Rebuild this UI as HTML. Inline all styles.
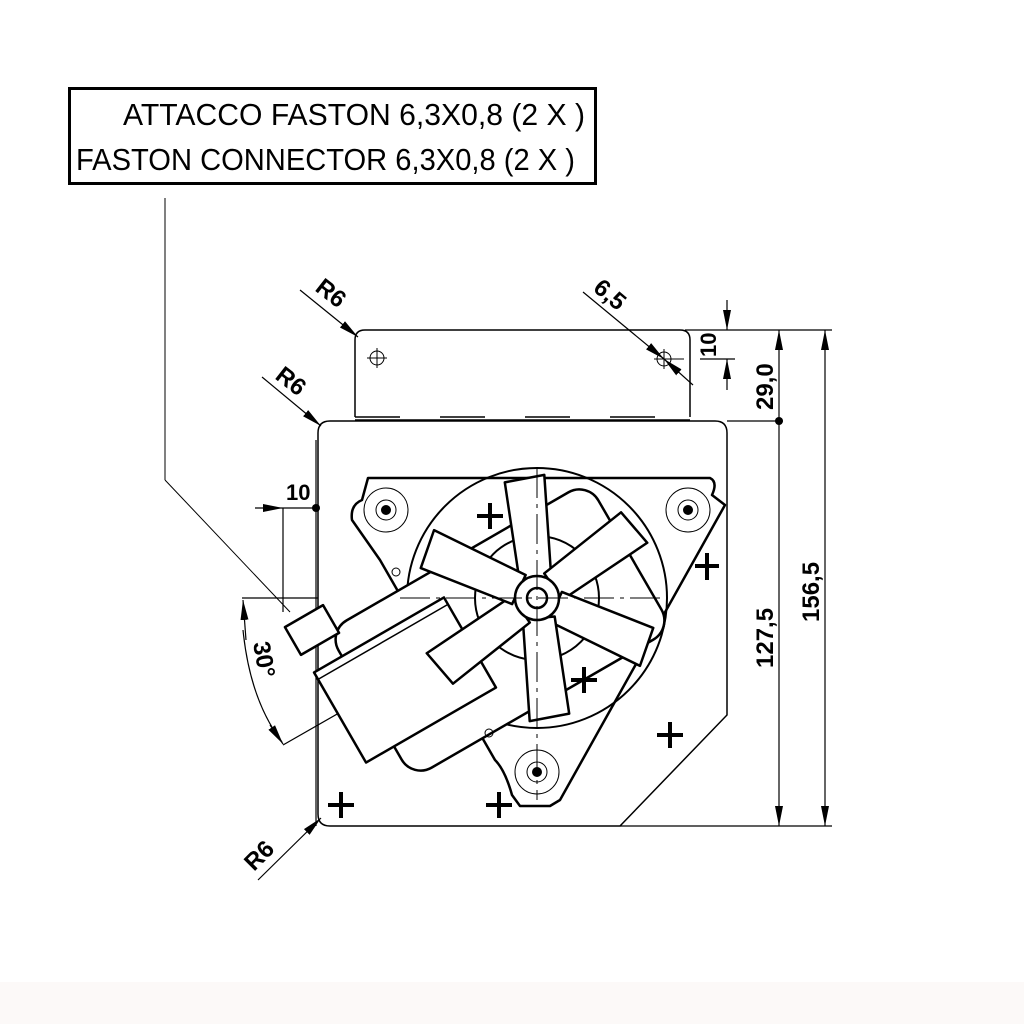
<!DOCTYPE html>
<html><head><meta charset="utf-8"><style>
html,body{margin:0;padding:0;background:#fff;}
svg{display:block}
text{font-family:"Liberation Sans Narrow","Liberation Sans",sans-serif;fill:#000}
</style></head><body>
<svg width="1024" height="1024" viewBox="0 0 1024 1024" xmlns="http://www.w3.org/2000/svg">
<defs>
<marker id="ar" viewBox="0 0 20 10" refX="20" refY="5" markerWidth="20" markerHeight="10" markerUnits="userSpaceOnUse" orient="auto"><path d="M0,1 L20,5 L0,9 z" fill="#000"/></marker>
</defs>
<rect x="0" y="982" width="1024" height="42" fill="#fcf9f8"/>
<rect x="69.5" y="88.5" width="526" height="95" fill="none" stroke="#000" stroke-width="3"/>
<text x="123" y="125" font-size="31" textLength="462" lengthAdjust="spacingAndGlyphs">ATTACCO FASTON 6,3X0,8 (2 X )</text>
<text x="76" y="170" font-size="31" textLength="499" lengthAdjust="spacingAndGlyphs">FASTON CONNECTOR 6,3X0,8 (2 X )</text>
<line x1="165" y1="198" x2="165" y2="480" stroke="#000" stroke-width="1"/>
<line x1="165" y1="480" x2="290" y2="612" stroke="#000" stroke-width="1"/>
<g fill="none" stroke="#000" stroke-width="1.5">
<path d="M355,417 V340 Q355,330 365,330 H680 Q690,330 690,340 V417"/>
<line x1="355" y1="417" x2="690" y2="417" stroke-dasharray="45,40"/>
<line x1="355" y1="420" x2="690" y2="420"/>
<path d="M318,433 Q318,421 330,421 H715 Q727,421 727,433 V715 L620,826 H330 Q318,826 318,814 Z"/>
</g>
<g fill="none" stroke="#000" stroke-width="1">
<circle cx="377" cy="358" r="7"/><path d="M367,358H387M377,348V368"/>
<circle cx="664" cy="359" r="7"/><path d="M654,359H684M664,349V369"/>
</g>
<g stroke="#000" stroke-width="1.2" fill="none">
<line x1="685" y1="330" x2="832" y2="330"/>
<line x1="700" y1="359" x2="735" y2="359"/>
<line x1="727" y1="421" x2="783" y2="421"/>
<line x1="620" y1="826" x2="832" y2="826"/>
<line x1="779" y1="421" x2="779" y2="330" marker-end="url(#ar)"/>
<line x1="779" y1="421" x2="779" y2="826" marker-end="url(#ar)"/>
<line x1="825" y1="580" x2="825" y2="330" marker-end="url(#ar)"/>
<line x1="825" y1="580" x2="825" y2="826" marker-end="url(#ar)"/>
<line x1="727" y1="300" x2="727" y2="330" marker-end="url(#ar)"/>
<line x1="727" y1="390" x2="727" y2="359" marker-end="url(#ar)"/>
<line x1="583" y1="292" x2="664" y2="359" marker-end="url(#ar)"/>
<line x1="693" y1="385" x2="664" y2="359" marker-end="url(#ar)"/>
<line x1="300" y1="290" x2="358" y2="337" marker-end="url(#ar)"/>
<line x1="262" y1="377" x2="321" y2="426" marker-end="url(#ar)"/>
<line x1="258" y1="880" x2="321" y2="818" marker-end="url(#ar)"/>
<line x1="316" y1="508" x2="283" y2="508"/>
<line x1="255" y1="508" x2="283" y2="508" marker-end="url(#ar)"/>
<line x1="283" y1="508" x2="283" y2="612"/>
<line x1="316" y1="440" x2="316" y2="826"/>
<line x1="242" y1="598" x2="318" y2="598"/>
<line x1="283" y1="745" x2="540" y2="598"/>
<path d="M243,630 Q250,700 282,742"/>
<line x1="246" y1="640" x2="243" y2="600" marker-end="url(#ar)"/>
<line x1="270" y1="725" x2="283" y2="744" marker-end="url(#ar)"/>
</g>
<circle cx="779" cy="421" r="4"/>
<circle cx="316" cy="508" r="4"/>
<g font-weight="bold" font-size="24">
<text x="286" y="500" font-size="22">10</text>
<text transform="translate(716,357) rotate(-90)" font-size="22">10</text>
<text transform="translate(773,410) rotate(-90)">29,0</text>
<text transform="translate(773,668) rotate(-90)">127,5</text>
<text transform="translate(819,622) rotate(-90)">156,5</text>
<text transform="translate(592,290) rotate(40)">6,5</text>
<text transform="translate(314,290) rotate(38)">R6</text>
<text transform="translate(274,378) rotate(38)">R6</text>
<text transform="translate(254,872) rotate(-45)">R6</text>
<text transform="translate(253,643) rotate(80)">30°</text>
</g>
<g fill="#fff" stroke="#000" stroke-width="2.5" stroke-linejoin="round">
<path d="M368,478 H710 Q718,482 712,495 L725,505 L560,800 L550,806 L520,806 L512,795 Q505,770 495,760 L380,560 L352,520 Q350,505 362,500 Z"/>
<circle cx="537" cy="598" r="130" fill="none" stroke-width="2"/>
<g transform="translate(500,630) rotate(-30)">
<rect x="-150" y="-85" width="300" height="170" rx="22"/>
</g>
<g transform="translate(405,680) rotate(-30)">
<rect x="-75" y="-52" width="150" height="104"/>
<line x1="-75" y1="-44" x2="75" y2="-44" stroke-width="1.5"/>
</g>
<g transform="translate(312,630) rotate(-30)">
<rect x="-22" y="-16" width="44" height="32"/>
</g>
<circle cx="537" cy="598" r="62" fill="none" stroke-width="2"/>
<g transform="translate(537,598)">
<g transform="rotate(-95)"><path d="M20,-16 L118,-22 L122,18 L20,16 Z"/></g>
<g transform="rotate(-35)"><path d="M20,-16 L118,-22 L122,18 L20,16 Z"/></g>
<g transform="rotate(25)"><path d="M20,-16 L118,-22 L122,18 L20,16 Z"/></g>
<g transform="rotate(85)"><path d="M20,-16 L118,-22 L122,18 L20,16 Z"/></g>
<g transform="rotate(145)"><path d="M20,-16 L118,-22 L122,18 L20,16 Z"/></g>
<g transform="rotate(205)"><path d="M20,-16 L118,-22 L122,18 L20,16 Z"/></g>
<circle r="22"/><circle r="10"/>
</g>
</g>
<g stroke="#000" stroke-width="1" stroke-dasharray="30,6,4,6">
<line x1="537" y1="468" x2="537" y2="800"/>
<line x1="400" y1="598" x2="665" y2="598"/>
</g>
<g fill="none" stroke="#000">
<g stroke-width="1"><circle cx="386" cy="510" r="22"/><circle cx="386" cy="510" r="10"/><circle cx="688" cy="510" r="22"/><circle cx="688" cy="510" r="10"/><circle cx="537" cy="772" r="22"/><circle cx="537" cy="772" r="10"/>
<circle cx="396" cy="572" r="4"/><circle cx="489" cy="733" r="4"/></g>
<g stroke-width="4">
<path d="M477,516H503M490,503V529"/><path d="M695,566H719M707,553V580"/>
<path d="M571,680H597M584,667V693"/><path d="M657,735H683M670,722V748"/>
<path d="M328,805H354M341,792V818"/><path d="M486,805H512M499,792V818"/>
</g>
</g>
<g fill="#000"><circle cx="386" cy="510" r="5"/><circle cx="688" cy="510" r="5"/><circle cx="537" cy="772" r="5"/></g>
</svg>
</body></html>
